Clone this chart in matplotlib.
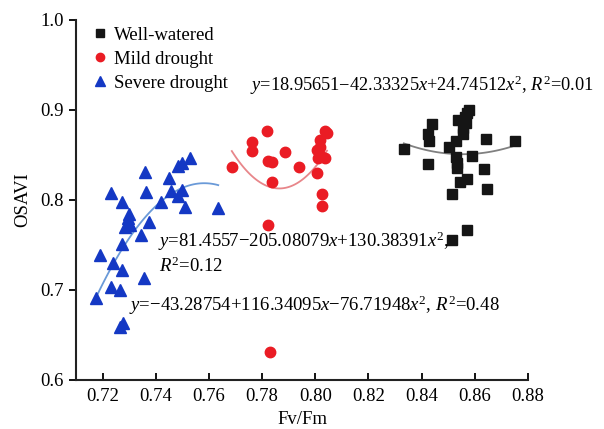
import numpy as np
import matplotlib
matplotlib.use("Agg")
import matplotlib.pyplot as plt

plt.rcParams["font.family"] = ["Liberation Serif", "DejaVu Serif"]
plt.rcParams["mathtext.fontset"] = "custom"
plt.rcParams["mathtext.rm"] = "Liberation Serif"
plt.rcParams["mathtext.it"] = "Liberation Serif:italic"

# Well-watered (black squares)
ww_x = [0.8579, 0.8570, 0.8562, 0.8537, 0.8440, 0.8566, 0.8557, 0.8424, 0.8554,
        0.8428, 0.8531, 0.8642, 0.8752, 0.8503, 0.8333, 0.8528, 0.8591, 0.8532,
        0.8424, 0.8532, 0.8633, 0.8572, 0.8545, 0.8644, 0.8516, 0.8569, 0.8516]
ww_y = [0.9000, 0.8963, 0.8926, 0.8889, 0.8844, 0.8852, 0.8797, 0.8730, 0.8730,
        0.8656, 0.8656, 0.8674, 0.8659, 0.8592, 0.8563, 0.8481, 0.8492, 0.8408,
        0.8397, 0.8352, 0.8341, 0.8233, 0.8203, 0.8119, 0.8070, 0.7667, 0.7556]

# Mild drought (red circles)
md_x = [0.7818, 0.7761, 0.7761, 0.7887, 0.7686, 0.7824, 0.7837, 0.7937, 0.7837,
        0.7824, 0.8038, 0.8044, 0.8016, 0.8019, 0.8006, 0.8019, 0.8038, 0.8012,
        0.8006, 0.8025, 0.8025, 0.7830]
md_y = [0.8767, 0.8648, 0.8548, 0.8533, 0.8370, 0.8433, 0.8426, 0.8363, 0.8203,
        0.7722, 0.8767, 0.8748, 0.8667, 0.8592, 0.8556, 0.8500, 0.8470, 0.8463,
        0.8303, 0.8067, 0.7933, 0.6311]

# Severe drought (blue triangles)
sd_x = [0.7528, 0.7497, 0.7484, 0.7358, 0.7450, 0.7230, 0.7365, 0.7459, 0.7499,
        0.7484, 0.7274, 0.7419, 0.7509, 0.7635, 0.7299, 0.7295, 0.7374, 0.7299,
        0.7302, 0.7283, 0.7346, 0.7274, 0.7189, 0.7239, 0.7274, 0.7356, 0.7230,
        0.7264, 0.7176, 0.7277, 0.7264]
sd_y = [0.8463, 0.8408, 0.8378, 0.8314, 0.8248, 0.8074, 0.8092, 0.8103, 0.8111,
        0.8044, 0.7981, 0.7981, 0.7926, 0.7908, 0.7844, 0.7797, 0.7759, 0.7741,
        0.7722, 0.7703, 0.7611, 0.7511, 0.7389, 0.7297, 0.7222, 0.7130, 0.7030,
        0.7000, 0.6908, 0.6630, 0.6592]

# quadratic fits: a + b*x + c*x^2
ww_fit = [18.95651, -42.33325, 24.74512]
md_fit = [81.4557, -205.08079, 130.38391]
sd_fit = [-43.28754, 116.34095, -76.71948]

x_ticks = [0.72, 0.74, 0.76, 0.78, 0.80, 0.82, 0.84, 0.86, 0.88]
y_ticks = [0.6, 0.7, 0.8, 0.9, 1.0]


def quad(coef, x):
    return coef[0] + coef[1] * x + coef[2] * x ** 2


fig = plt.figure(figsize=(6.04, 4.29), dpi=100)
ax = fig.add_axes([76 / 604, 49 / 429, 452 / 604, 360 / 429])

black, red, blue = "#151515", "#ea1c24", "#1438c4"

for xs, coef, col in [(ww_x, ww_fit, "#808080"),
                      (md_x, md_fit, "#e8868a"),
                      (sd_x, sd_fit, "#6a9ad8")]:
    xx = np.linspace(min(xs), max(xs), 100)
    ax.plot(xx, quad(coef, xx), color=col, lw=1.3, zorder=2)

ax.plot(ww_x, ww_y, "s", color=black, ms=6.5, ls="none", label="Well-watered", zorder=3)
ax.plot(md_x, md_y, "o", color=red, ms=7.5, ls="none", label="Mild drought", zorder=3)
ax.plot(sd_x, sd_y, "^", color=blue, ms=8.5, ls="none", label="Severe drought", zorder=3)

fs = 13.5
ax.text(0.7755, 0.9278, r"$y$=18.95651−42.33325$x$+24.74512$x^2$, $R^2$=0.01",
        fontsize=fs - 0.3, va="center", ha="left", clip_on=False)
ax.text(0.7410, 0.7540, r"$y$=81.4557−205.08079$x$+130.38391$x^2$,",
        fontsize=fs, va="center", ha="left")
ax.text(0.7414, 0.7262, r"$R^2$=0.12", fontsize=fs, va="center", ha="left")
ax.text(0.7300, 0.6833, r"$y$=−43.28754+116.34095$x$−76.71948$x^2$, $R^2$=0.48",
        fontsize=fs, va="center", ha="left")

ax.set_xlim(0.71, 0.88)
ax.set_ylim(0.6, 1.0)
ax.set_xticks(x_ticks)
ax.set_xticklabels([f"{v:.2f}" for v in x_ticks])
ax.set_yticks(y_ticks)
ax.set_yticklabels([f"{v:.1f}" for v in y_ticks])
ax.tick_params(axis="x", direction="in", length=5, width=1.3, labelsize=fs, pad=6)
ax.tick_params(axis="y", direction="out", length=5, width=1.3, labelsize=fs, pad=4)
for s in ["top", "right"]:
    ax.spines[s].set_visible(False)
for s in ["left", "bottom"]:
    ax.spines[s].set_linewidth(1.5)
    ax.spines[s].set_color("#222222")

ax.set_xlabel("Fv/Fm", fontsize=fs, labelpad=4)
ax.set_ylabel("OSAVI", fontsize=fs, labelpad=6)

ax.legend(loc="upper left", bbox_to_anchor=(0.0, 1.018), frameon=False, fontsize=fs,
          handletextpad=0.1, borderaxespad=0.3, labelspacing=0.36, handlelength=1.2,
          markerscale=0.8)

fig.savefig("out.png", dpi=100)
